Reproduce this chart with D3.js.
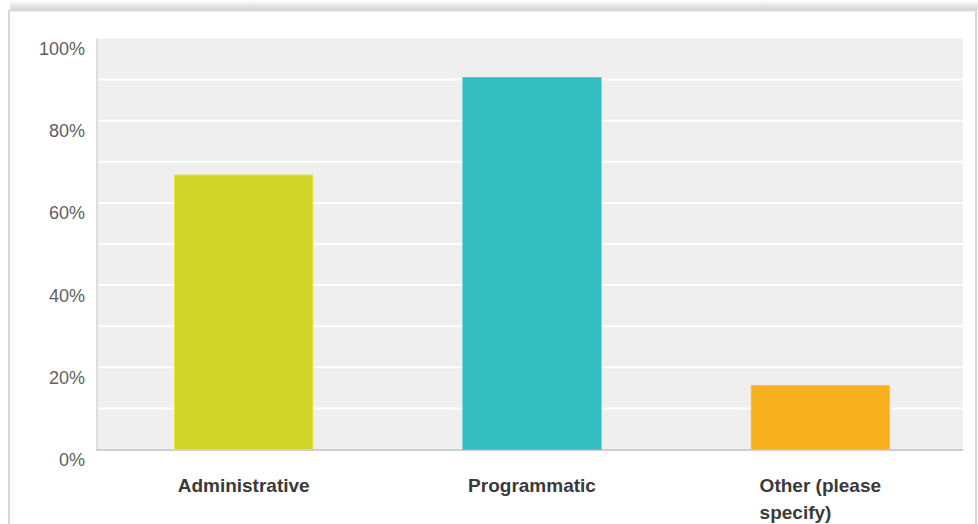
<!DOCTYPE html>
<html>
<head>
<meta charset="utf-8">
<script src="https://cdn.jsdelivr.net/npm/d3@7"></script>
<style>
  html, body { margin: 0; padding: 0; background: #ffffff; }
  svg { display: block; }
</style>
</head>
<body>
<svg id="chart" width="978" height="524"></svg>
<script>
// Survey answers: share of respondents per category
const categories = ["Administrative", "Programmatic", "Other (please specify)"];
const shares = [0.668, 0.905, 0.156];
const barColors = ["#cfd426", "#33bdbf", "#f6b01e"];
const tickValues = [0, 0.2, 0.4, 0.6, 0.8, 1.0];
const gridValues = [0.1, 0.2, 0.3, 0.4, 0.5, 0.6, 0.7, 0.8, 0.9];

const W = 978, H = 524;
const plot = { left: 98, right: 963, top: 38.5, bottom: 449.5 };

const svg = d3.select("#chart");
const defs = svg.append("defs");

// soft shadow along the top edge of the panel
const sh = defs.append("linearGradient").attr("id", "topShade")
  .attr("x1", 0).attr("y1", 0).attr("x2", 0).attr("y2", 1);
sh.append("stop").attr("offset", "0%").attr("stop-color", "#ffffff");
sh.append("stop").attr("offset", "100%").attr("stop-color", "#d4d4d4");

svg.append("rect").attr("x", 10).attr("y", 0).attr("width", W - 10).attr("height", 10)
  .attr("fill", "url(#topShade)");

// panel frame
svg.append("rect").attr("x", 9).attr("y", 10.5).attr("width", 967).attr("height", H)
  .attr("fill", "#ffffff").attr("stroke", "#d9d9d9").attr("stroke-width", 2);

const x = d3.scaleBand().domain(categories).range([plot.left + 1.5, plot.right + 1.5]).paddingInner(0.52).paddingOuter(0.26);
const y = d3.scaleLinear().domain([0, 1]).range([plot.bottom, plot.top]);

// plot background
svg.append("rect").attr("x", plot.left).attr("y", plot.top)
  .attr("width", plot.right - plot.left).attr("height", plot.bottom - plot.top)
  .attr("fill", "#efefef");

// horizontal grid lines
svg.append("g").selectAll("line").data(gridValues).join("line")
  .attr("x1", plot.left).attr("x2", plot.right)
  .attr("y1", d => y(d)).attr("y2", d => y(d))
  .attr("stroke", "#ffffff").attr("stroke-width", 2);

// left and bottom edges of the plot
svg.append("line").attr("x1", plot.left - 1).attr("x2", plot.left - 1)
  .attr("y1", plot.top).attr("y2", plot.bottom + 1)
  .attr("stroke", "#dedede").attr("stroke-width", 2);
svg.append("line").attr("x1", plot.left - 2).attr("x2", plot.right)
  .attr("y1", plot.bottom + 0.5).attr("y2", plot.bottom + 0.5)
  .attr("stroke", "#cfcfcf").attr("stroke-width", 2);

// bars
svg.append("g").selectAll("rect").data(categories).join("rect")
  .attr("x", d => x(d))
  .attr("width", x.bandwidth())
  .attr("y", (d, i) => y(shares[i]))
  .attr("height", (d, i) => y(0) - y(shares[i]))
  .attr("fill", (d, i) => barColors[i])
  .attr("stroke", (d, i) => d3.color(barColors[i]).brighter(0.3))
  .attr("stroke-width", 0.8);

// y axis tick labels
const yAxis = d3.axisLeft(y).tickValues(tickValues).tickFormat(d3.format(".0%")).tickSize(0).tickPadding(0);
const yg = svg.append("g").attr("transform", `translate(85,16)`).call(yAxis);
yg.select(".domain").remove();
yg.selectAll("text")
  .attr("dy", null)
  .attr("font-family", "'Liberation Sans', Arial, sans-serif")
  .attr("font-size", 18)
  .attr("fill", "#5f5f5f");

// category labels, wrapped to the bar width, lines left-aligned within a centred block
const xg = svg.append("g").attr("font-family", "'Liberation Sans', Arial, sans-serif")
  .attr("font-size", 19).attr("font-weight", "bold").attr("fill", "#3a3a3a");

categories.forEach(c => {
  const cx = x(c) + x.bandwidth() / 2;
  const t = xg.append("text").attr("y", 491.5);
  const words = c.split(" ");
  const lines = [];
  let cur = [];
  const probe = xg.append("text").attr("visibility", "hidden");
  words.forEach(w => {
    const trial = cur.concat([w]).join(" ");
    probe.text(trial);
    if (cur.length && probe.node().getComputedTextLength() > x.bandwidth()) {
      lines.push(cur.join(" "));
      cur = [w];
    } else {
      cur.push(w);
    }
  });
  lines.push(cur.join(" "));
  let maxW = 0;
  lines.forEach(l => { probe.text(l); maxW = Math.max(maxW, probe.node().getComputedTextLength()); });
  probe.remove();
  const left = cx - maxW / 2;
  lines.forEach((l, i) => {
    t.append("tspan").attr("x", left).attr("dy", i === 0 ? 0 : 27).text(l);
  });
});
</script>
</body>
</html>
